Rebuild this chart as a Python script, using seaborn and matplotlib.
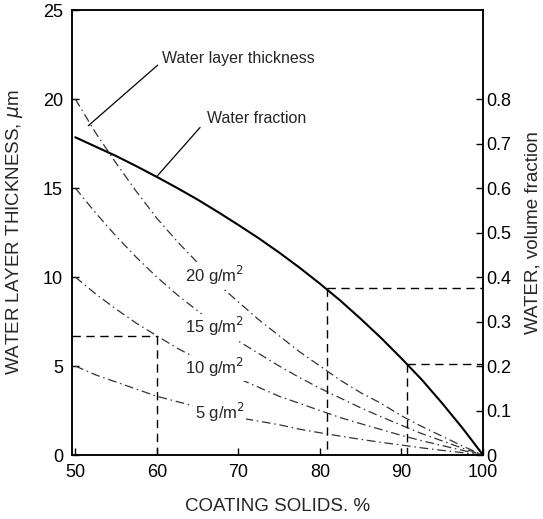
import numpy as np
import pandas as pd
import matplotlib
matplotlib.use("Agg")
import matplotlib.pyplot as plt
import seaborn as sns

# ---- data ----
solids = [50, 52.5, 55, 57.5, 60, 62.5, 65, 67.5, 70, 72.5, 75, 77.5, 80,
          82.5, 85, 87.5, 90, 92.5, 95, 97.5, 100]
water_fraction = [0.714, 0.693, 0.672, 0.649, 0.625, 0.600, 0.574, 0.546, 0.517,
                  0.487, 0.455, 0.421, 0.385, 0.347, 0.306, 0.263, 0.217, 0.169,
                  0.116, 0.060, 0.0]
thick_20 = [20.0, 18.1, 16.4, 14.8, 13.3, 12.0, 10.8, 9.6, 8.6, 7.6, 6.7, 5.8,
            5.0, 4.2, 3.5, 2.9, 2.2, 1.6, 1.05, 0.5, 0.0]
thick_15 = [15.0, 13.6, 12.3, 11.1, 10.0, 9.0, 8.1, 7.2, 6.4, 5.7, 5.0, 4.35,
            3.75, 3.2, 2.65, 2.15, 1.67, 1.2, 0.79, 0.38, 0.0]
thick_10 = [10.0, 9.05, 8.2, 7.4, 6.7, 6.0, 5.4, 4.8, 4.3, 3.8, 3.3, 2.9,
            2.5, 2.1, 1.76, 1.43, 1.1, 0.8, 0.53, 0.26, 0.0]
thick_5 = [5.0, 4.5, 4.1, 3.7, 3.3, 3.0, 2.7, 2.4, 2.1, 1.9, 1.7, 1.45,
           1.25, 1.06, 0.88, 0.71, 0.56, 0.4, 0.26, 0.13, 0.0]
coat_labels = ["20 g/m$^2$", "15 g/m$^2$", "10 g/m$^2$", "5 g/m$^2$"]
label_pos_x = [67.1, 67.1, 67.1, 67.7]
label_pos_y = [10.1, 7.2, 4.9, 2.4]

# reference (dashed) read-off lines
ref_left_x = [60.0]
ref_left_y = [6.67]
ref_right_x = [80.9, 90.7]
ref_right_frac = [0.375, 0.205]

x_ticks = [50, 60, 70, 80, 90, 100]
y_ticks = [0, 5, 10, 15, 20, 25]
y2_ticks = [0, 0.1, 0.2, 0.3, 0.4, 0.5, 0.6, 0.7, 0.8]

sns.set_style("ticks")
plt.rcParams['font.family'] = ['Liberation Sans', 'DejaVu Sans']

fig = plt.figure(figsize=(5.43, 5.19), dpi=100)
ax = fig.add_axes([0.1326, 0.1233, 0.757, 0.8574])
XMIN, XMAX = 49.6, 100

thick_df = pd.DataFrame({
    "solids": solids * 4,
    "thick": thick_20 + thick_15 + thick_10 + thick_5,
    "w": sum([[lab] * len(solids) for lab in coat_labels], []),
})
for lab in coat_labels:
    sub = thick_df[thick_df["w"] == lab]
    sns.lineplot(data=sub, x="solids", y="thick", ax=ax, color="#333333",
                 lw=0.9, linestyle=(0, (7, 3, 1.2, 3)), legend=False)

ax.set_xlim(XMIN, XMAX)
ax.set_ylim(0, 25)
ax.set_xticks(x_ticks)
ax.set_yticks(y_ticks)

ax2 = ax.twinx()
frac_df = pd.DataFrame({"solids": solids, "frac": water_fraction})
sns.lineplot(data=frac_df, x="solids", y="frac", ax=ax2, color="black", lw=1.5, legend=False)
ax2.set_ylim(0, 1.0)
ax2.set_yticks(y2_ticks)
ax2.set_yticklabels(["0"] + [f"{v:.1f}" for v in y2_ticks[1:]])
ax2.set_xlim(XMIN, XMAX)

dash = dict(color="black", lw=1.0, linestyle=(0, (6, 4)))
for xv, yv in zip(ref_left_x, ref_left_y):
    ax.plot([XMIN, xv], [yv, yv], **dash)
    ax.plot([xv, xv], [yv, 0], **dash)
for xv, fv in zip(ref_right_x, ref_right_frac):
    ax2.plot([xv, XMAX], [fv, fv], **dash)
    ax2.plot([xv, xv], [fv, 0], **dash)

for lab, lx, ly in zip(coat_labels, label_pos_x, label_pos_y):
    ax.text(lx, ly, lab, ha="center", va="center", fontsize=12,
            bbox=dict(facecolor="white", edgecolor="none", pad=1.0))

ax.text(60.6, 22.3, "Water layer thickness", ha="left", va="center", fontsize=11.5)
ax.plot([60.1, 51.6], [21.9, 18.5], color="black", lw=0.9)
ax.text(66.2, 18.9, "Water fraction", ha="left", va="center", fontsize=11.5)
ax.plot([65.3, 60.1], [18.4, 15.7], color="black", lw=0.9)

for a in (ax, ax2):
    a.tick_params(direction="in", labelsize=13, length=5, width=1, colors="black")
    for s in a.spines.values():
        s.set_visible(True)
        s.set_linewidth(1.1)
        s.set_color("black")
ax.tick_params(axis="y", pad=6.5)
ax.tick_params(axis="x", pad=6.5)
ax2.tick_params(axis="y", pad=2.5)

ax.set_xlabel("COATING SOLIDS. %", fontsize=13.5, labelpad=12)
ax.set_ylabel("WATER LAYER THICKNESS, $\\mu$m", fontsize=13.5, labelpad=13)
ax2.set_ylabel("WATER, volume fraction", fontsize=13.5, labelpad=9)

fig.savefig("out.png", dpi=100)
